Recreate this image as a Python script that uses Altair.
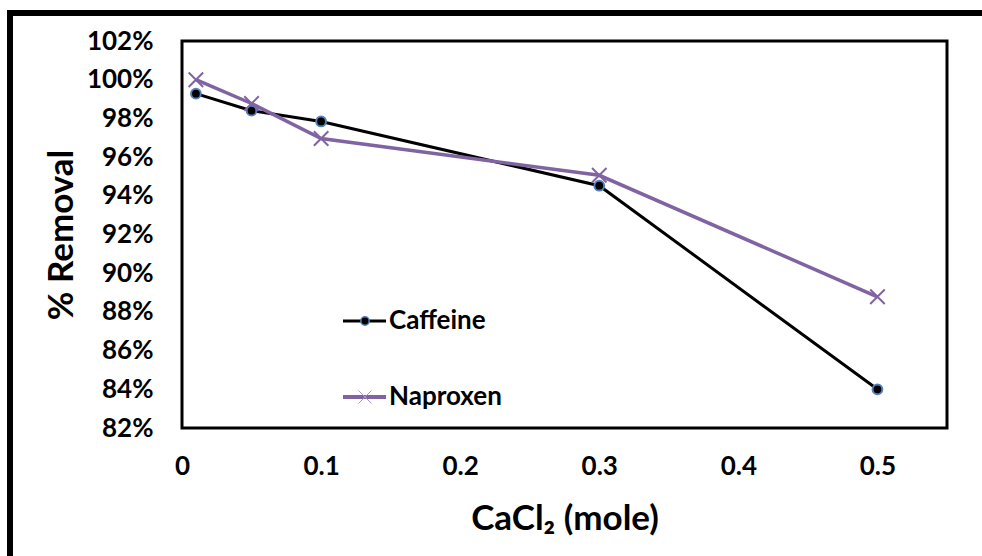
import altair as alt
import pandas as pd

# ---- data ----
cacl2 = [0.01, 0.05, 0.1, 0.3, 0.5]
caffeine = [0.9928, 0.9840, 0.9784, 0.9452, 0.8400]
naproxen = [1.0000, 0.9877, 0.9696, 0.9506, 0.8878]
series = ["Caffeine", "Naproxen"]
colors = ["#000000", "#8064A2"]
x_ticks = [0, 0.1, 0.2, 0.3, 0.4, 0.5]
y_ticks = [0.82, 0.84, 0.86, 0.88, 0.90, 0.92, 0.94, 0.96, 0.98, 1.00, 1.02]

df = pd.DataFrame({
    "CaCl2": cacl2 + cacl2,
    "Removal": caffeine + naproxen,
    "Series": [series[0]] * len(cacl2) + [series[1]] * len(cacl2),
})
leg_df = pd.DataFrame({"Series": series})

FONT = "Lato"

x_enc = alt.X(
    "CaCl2:Q",
    scale=alt.Scale(domain=[0, 0.55], nice=False, zero=False),
    axis=alt.Axis(
        values=x_ticks, format="~g", title="CaCl₂ (mole)",
        grid=False, ticks=False, domain=False,
        labelFont=FONT, labelFontSize=26, labelFontWeight="bold", labelColor="black",
        labelPadding=25, labelFlush=False,
        titleFont=FONT, titleFontSize=35, titleFontWeight="bold", titleColor="black",
        titleY=90, titleBaseline="middle",
    ),
)
y_enc = alt.Y(
    "Removal:Q",
    scale=alt.Scale(domain=[0.82, 1.02], nice=False, zero=False),
    axis=alt.Axis(
        values=y_ticks, format=".0%", title="% Removal",
        grid=False, ticks=False, domain=False,
        labelFont=FONT, labelFontSize=26, labelFontWeight="bold", labelColor="black",
        labelPadding=29, labelFlush=False,
        titleFont=FONT, titleFontSize=35, titleFontWeight="bold", titleColor="black",
        titleX=-121, titleY=193.5, titleAngle=-90, titleBaseline="middle",
    ),
)
color_enc = alt.Color("Series:N", scale=alt.Scale(domain=series, range=colors), legend=None)

base = alt.Chart(df)
caf = base.transform_filter(alt.datum.Series == series[0])
nap = base.transform_filter(alt.datum.Series == series[1])

caf_line = caf.mark_line(strokeWidth=3).encode(x=x_enc, y=y_enc, color=color_enc)
caf_pts = caf.mark_point(filled=True, shape="circle", size=95, fill="black",
                         stroke="#4F81BD", strokeWidth=2, opacity=1).encode(x=x_enc, y=y_enc)
nap_line = nap.mark_line(strokeWidth=3.5).encode(x=x_enc, y=y_enc, color=color_enc)
nap_pts = nap.mark_point(shape="M-1,-1L1,1M-1,1L1,-1", size=210, filled=False,
                         strokeWidth=2, opacity=1).encode(x=x_enc, y=y_enc, color=color_enc)

# ---- manual legend ----
lb = alt.Chart(leg_df)
lc = lb.transform_filter(alt.datum.Series == series[0])
ln = lb.transform_filter(alt.datum.Series == series[1])
leg = [
    lc.mark_rule(strokeWidth=3, color=colors[0]).encode(x=alt.value(161), x2=alt.value(204), y=alt.value(280)),
    lc.mark_point(filled=True, shape="circle", size=70, fill="black", stroke="#4F81BD",
                  strokeWidth=1.5, opacity=1).encode(x=alt.value(183), y=alt.value(280)),
    lc.mark_text(align="left", baseline="middle", font=FONT, fontSize=26, fontWeight="bold",
                 color="black").encode(x=alt.value(207), y=alt.value(280), text="Series:N"),
    ln.mark_rule(strokeWidth=4, color=colors[1]).encode(x=alt.value(161), x2=alt.value(204), y=alt.value(356)),
    ln.mark_point(shape="M-1,-1L1,1M-1,1L1,-1", size=170, filled=False, strokeWidth=1,
                  color="#A994CC", opacity=1).encode(x=alt.value(183), y=alt.value(356)),
    ln.mark_text(align="left", baseline="middle", font=FONT, fontSize=26, fontWeight="bold",
                 color="black").encode(x=alt.value(207), y=alt.value(356), text="Series:N"),
]

# ---- outer frame (left and top edges visible in the reference) ----
frame = [
    lc.mark_rule(strokeWidth=6, color="black", strokeCap="butt")
      .encode(x=alt.value(-172), y=alt.value(-31), y2=alt.value(515)),
    lc.mark_rule(strokeWidth=6, color="black", strokeCap="butt")
      .encode(x=alt.value(-175), x2=alt.value(800), y=alt.value(-28)),
]

chart = alt.layer(caf_line, caf_pts, nap_line, nap_pts, *leg, *frame).properties(
    width=765, height=387,
    padding={"left": 182, "top": 41, "right": 35, "bottom": 128},
    autosize=alt.AutoSizeParams(type="none"),
    background="white",
).configure_view(stroke="black", strokeWidth=3)

chart.save("out.html", embed_options={"renderer": "svg", "actions": False})
